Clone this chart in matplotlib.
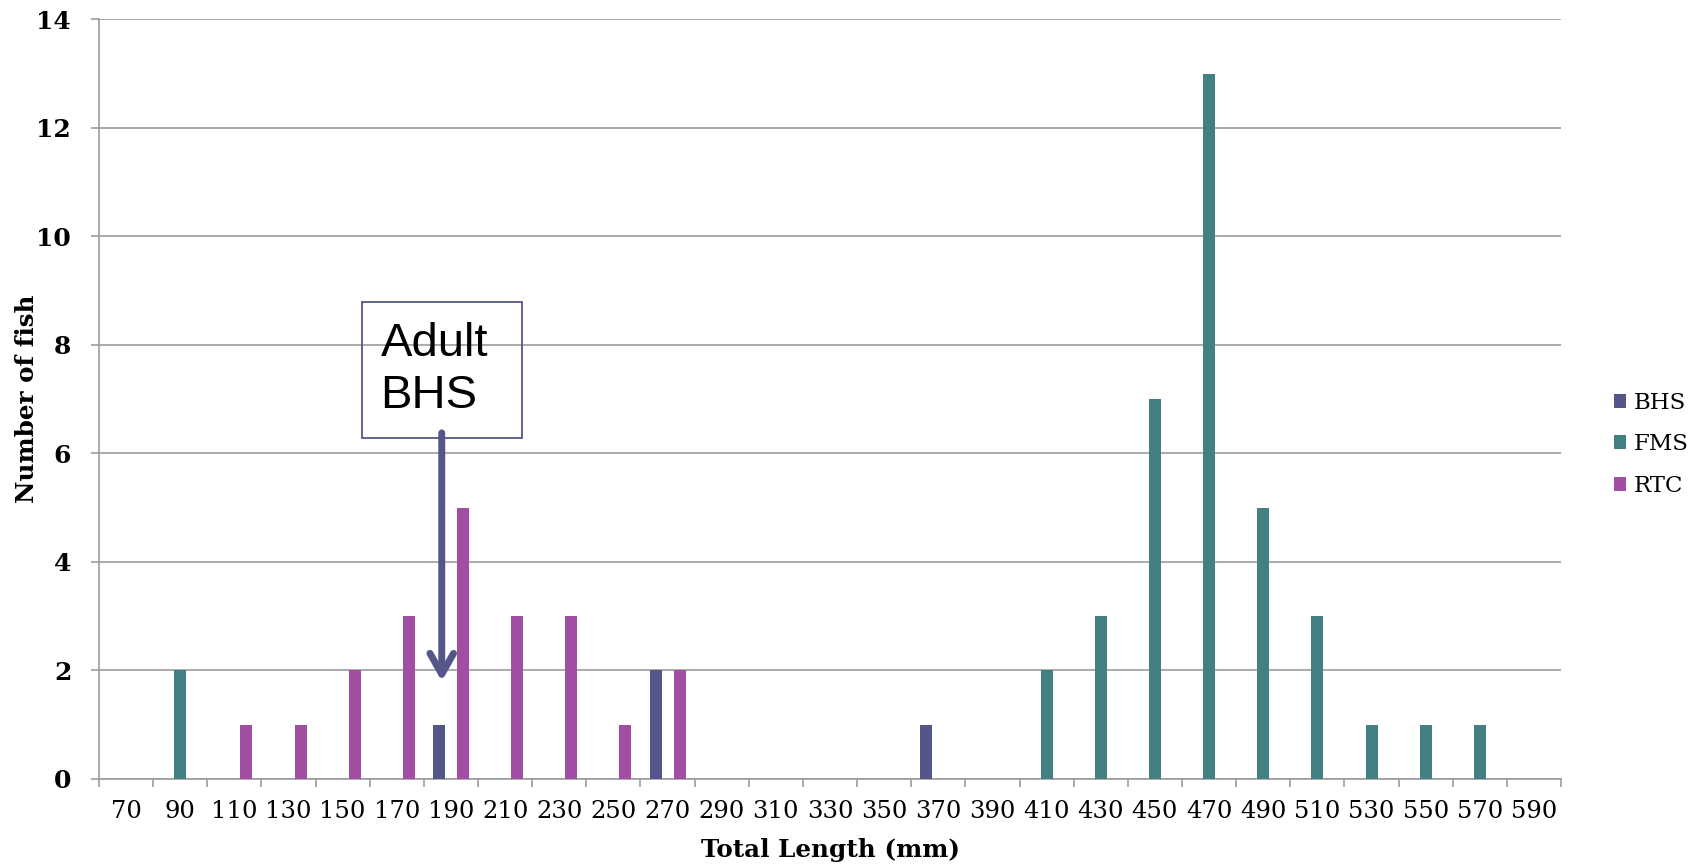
import matplotlib
matplotlib.use("Agg")
import matplotlib.pyplot as plt
import numpy as np
from matplotlib.patches import Rectangle

# Data
lengths = list(range(70, 591, 20))
series_names = ["BHS", "FMS", "RTC"]
bhs = {190: 1, 270: 2, 370: 1}
fms = {90: 2, 410: 2, 430: 3, 450: 7, 470: 13, 490: 5, 510: 3, 530: 1, 550: 1, 570: 1}
rtc = {110: 1, 130: 1, 150: 2, 170: 3, 190: 5, 210: 3, 230: 3, 250: 1, 270: 2}
colors = ["#54568A", "#428084", "#A24EA2"]

SERIF = ["DejaVu Serif"]

fig = plt.figure(figsize=(16.92, 8.66), dpi=100)
ax = fig.add_axes([0.0585, 0.1005, 0.9226 - 0.0585, 0.9776 - 0.1005])

x = np.arange(len(lengths))
width = 0.222
for i, (name, counts, color) in enumerate(zip(series_names, [bhs, fms, rtc], colors)):
    vals = [counts.get(v, 0) for v in lengths]
    ax.bar(x + (i - 1) * width, vals, width=width, color=color, label=name, zorder=3)

ax.set_xlim(-0.5, len(lengths) - 0.5)
ax.set_ylim(0, 14)
ax.set_yticks(range(0, 15, 2))
ax.yaxis.grid(True, color="#9c9c9c", lw=1.2, zorder=0)
ax.set_axisbelow(True)

for s in ["top", "right"]:
    ax.spines[s].set_visible(False)
for s in ["left", "bottom"]:
    ax.spines[s].set_color("#9c9c9c")
    ax.spines[s].set_linewidth(1.2)

ax.set_xticks(x)
ax.set_xticklabels([str(v) for v in lengths], family=SERIF, fontsize=17.5)
ax.set_xticks(np.arange(-0.5, len(lengths)), minor=True)
ax.tick_params(axis="x", which="major", length=0, pad=15)
ax.tick_params(axis="x", which="minor", length=6, width=1.2, color="#9c9c9c")
ax.tick_params(axis="y", length=6, width=1.2, color="#9c9c9c", pad=14)
for lbl in ax.get_yticklabels():
    lbl.set_family(SERIF)
    lbl.set_fontweight("bold")
    lbl.set_fontsize(18)

ax.set_xlabel("Total Length (mm)", family=SERIF, fontweight="bold", fontsize=17.7)
ax.set_ylabel("Number of fish", family=SERIF, fontweight="bold", fontsize=17.7)
ax.xaxis.set_label_coords(0.5, -0.093)
ax.xaxis.label.set_va("center")
ax.yaxis.set_label_coords(-0.049, 0.5)
ax.yaxis.label.set_va("center")

leg = fig.legend(loc="center left", bbox_to_anchor=(0.947, 0.487), frameon=False,
                 prop={"family": SERIF, "size": 16.5}, handlelength=0.55, handleheight=0.55,
                 handletextpad=0.3, labelspacing=0.85, borderpad=0)

# annotation box and arrow
ax.add_patch(Rectangle((4.357, 6.28), 7.31 - 4.357, 8.79 - 6.28, fill=False,
                       edgecolor="#54568A", lw=1.3, zorder=5))
ax.text(4.70, 8.42, "Adult\nBHS", family="Liberation Sans", fontsize=34, va="top",
        ha="left", linespacing=1.22, zorder=6)
ax.annotate("", xy=(5.83, 1.75), xytext=(5.83, 6.43),
            arrowprops=dict(arrowstyle="->,head_length=1.5,head_width=0.85",
                            color="#54568A", lw=5), zorder=6)

fig.savefig("out.png", dpi=100)
